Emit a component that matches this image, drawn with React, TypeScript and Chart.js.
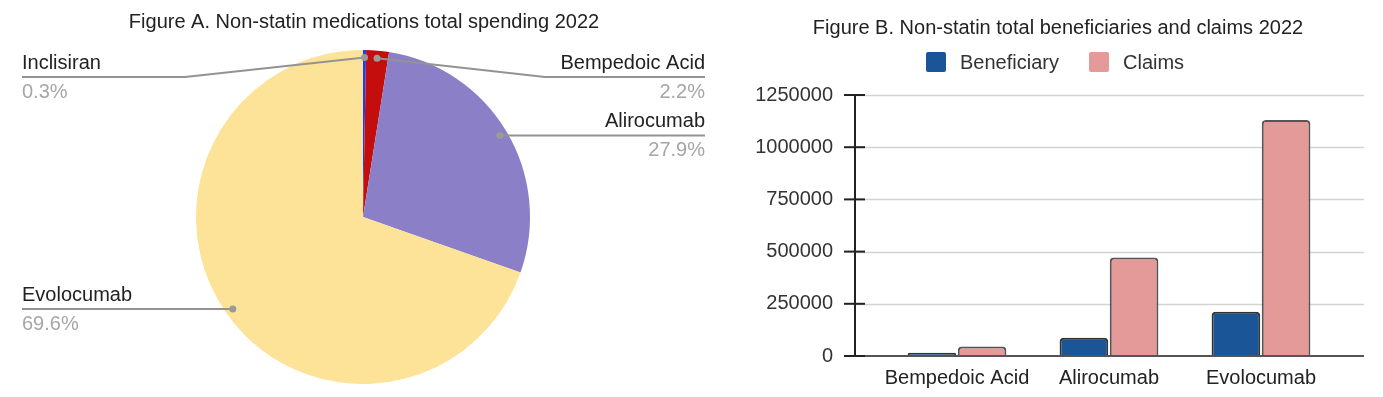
import React, { useEffect, useRef } from 'react';
import { Chart, registerables } from 'chart.js';

Chart.register(...registerables);

// ---------- Data ----------
const pieTitle = 'Figure A. Non-statin medications total spending 2022';
const pieLabels = ['Inclisiran', 'Bempedoic Acid', 'Alirocumab', 'Evolocumab'];
const pieValues = [0.3, 2.2, 27.9, 69.6];

const barTitle = 'Figure B. Non-statin total beneficiaries and claims 2022';
const barCategories = ['Bempedoic Acid', 'Alirocumab', 'Evolocumab'];
const beneficiaryValues = [15000, 88000, 212000];
const claimsValues = [45000, 472000, 1130000];
const yTickValues = [0, 250000, 500000, 750000, 1000000, 1250000];

// ---------- Styles / layout ----------
const FONT = '"Liberation Sans", Arial, sans-serif';
const pieColors = ['#1a3ef0', '#c40e0e', '#8b80c7', '#fce397'];
const pieLabelSides = ['left', 'right', 'right', 'left'];
const beneficiaryColor = '#1a5597';
const claimsColor = '#e39a99';
const BAR_OFFSET = 730;

const pieLabelPlugin = {
  id: 'pieLabelPlugin',
  afterDraw(chart: any) {
    const ctx = chart.ctx;
    const area = chart.chartArea;
    const meta = chart.getDatasetMeta(0);
    const data = chart.data.datasets[0].data as number[];
    const total = data.reduce((a, b) => a + b, 0);
    ctx.save();
    ctx.font = `20px ${FONT}`;
    ctx.fillStyle = '#222';
    ctx.textAlign = 'center';
    ctx.textBaseline = 'middle';
    ctx.fillText(pieTitle, 364, 22);

    meta.data.forEach((arc: any, i: number) => {
      const p = arc.getProps(['x', 'y', 'startAngle', 'endAngle', 'outerRadius'], true);
      const mid = (p.startAngle + p.endAngle) / 2;
      const r = p.outerRadius * 0.955;
      const dx = p.x + Math.cos(mid) * r;
      const dy = p.y + Math.sin(mid) * r;
      const lineY = Math.max(dy, area.top + 27);
      const side = pieLabelSides[i];
      const endX = side === 'left' ? 22 : 705;
      const bendX = side === 'left' ? endX + 163 : endX - 160;
      ctx.strokeStyle = '#939393';
      ctx.lineWidth = 2;
      ctx.beginPath();
      ctx.moveTo(dx, dy);
      if (lineY > dy + 0.5) ctx.lineTo(bendX, lineY);
      ctx.lineTo(endX, lineY);
      ctx.stroke();
      ctx.fillStyle = '#9a9a9a';
      ctx.beginPath();
      ctx.arc(dx, dy, 3.5, 0, Math.PI * 2);
      ctx.fill();

      ctx.textAlign = side === 'left' ? 'left' : 'right';
      ctx.textBaseline = 'middle';
      ctx.font = `20px ${FONT}`;
      ctx.fillStyle = '#222';
      ctx.fillText(pieLabels[i], endX, lineY - 14);
      ctx.fillStyle = '#a6a6a6';
      ctx.fillText(((data[i] / total) * 100).toFixed(1) + '%', endX, lineY + 15);
    });
    ctx.restore();
  },
};

const AXIS_X = 855 - BAR_OFFSET;
const RIGHT_X = 1364 - BAR_OFFSET;

const barDecorPlugin = {
  id: 'barDecorPlugin',
  beforeDatasetsDraw(chart: any) {
    const ctx = chart.ctx;
    const y = chart.scales.y;
    ctx.save();
    ctx.strokeStyle = '#d3d3d3';
    ctx.lineWidth = 1.5;
    yTickValues.forEach((v) => {
      if (v === 0) return;
      const py = Math.round(y.getPixelForValue(v)) + 0.5;
      ctx.beginPath();
      ctx.moveTo(AXIS_X, py);
      ctx.lineTo(RIGHT_X, py);
      ctx.stroke();
    });
    ctx.restore();
  },
  afterDraw(chart: any) {
    const ctx = chart.ctx;
    const y = chart.scales.y;
    const x = chart.scales.x;
    const y0 = y.getPixelForValue(0);
    const yTop = y.getPixelForValue(yTickValues[yTickValues.length - 1]);
    ctx.save();
    // zero baseline
    ctx.strokeStyle = '#555';
    ctx.lineWidth = 2;
    ctx.beginPath();
    ctx.moveTo(AXIS_X, y0);
    ctx.lineTo(RIGHT_X, y0);
    ctx.stroke();
    // axis line
    ctx.strokeStyle = '#222';
    ctx.beginPath();
    ctx.moveTo(AXIS_X, yTop - 1);
    ctx.lineTo(AXIS_X, y0 + 1);
    ctx.stroke();
    // tick marks
    yTickValues.forEach((v) => {
      const py = y.getPixelForValue(v);
      ctx.beginPath();
      ctx.moveTo(AXIS_X - 11, py);
      ctx.lineTo(AXIS_X + 10, py);
      ctx.stroke();
    });
    ctx.font = `20px ${FONT}`;
    // y tick labels
    ctx.fillStyle = '#333';
    ctx.textAlign = 'right';
    ctx.textBaseline = 'middle';
    yTickValues.forEach((v) => {
      ctx.fillText(String(v), 833 - BAR_OFFSET, y.getPixelForValue(v));
    });
    // x category labels
    ctx.fillStyle = '#222';
    ctx.textAlign = 'center';
    barCategories.forEach((c, i) => {
      ctx.fillText(c, x.getPixelForValue(i), y0 + 22);
    });
    // title
    ctx.fillText(barTitle, 1058 - BAR_OFFSET, 28);
    // legend
    const items = chart.data.datasets.map((d: any) => ({ label: d.label, color: d.backgroundColor }));
    const legendX = [926 - BAR_OFFSET, 1089 - BAR_OFFSET];
    items.forEach((it: any, i: number) => {
      const bx = legendX[i];
      ctx.fillStyle = it.color;
      ctx.beginPath();
      (ctx as any).roundRect(bx, 52, 20, 20, 2);
      ctx.fill();
      ctx.fillStyle = '#333';
      ctx.textAlign = 'left';
      ctx.fillText(it.label, bx + 34, 63);
    });
    ctx.restore();
  },
};

export default function App() {
  const pieRef = useRef<HTMLCanvasElement | null>(null);
  const barRef = useRef<HTMLCanvasElement | null>(null);

  useEffect(() => {
    const pie = new Chart(pieRef.current as HTMLCanvasElement, {
      type: 'pie',
      data: {
        labels: pieLabels,
        datasets: [
          {
            data: pieValues,
            backgroundColor: pieColors,
            borderWidth: 0,
          },
        ],
      },
      options: {
        responsive: false,
        animation: false,
        events: [],
        layout: { padding: { left: 196, right: 200, top: 50, bottom: 13 } },
        plugins: { legend: { display: false }, title: { display: false }, tooltip: { enabled: false } },
      },
      plugins: [pieLabelPlugin],
    });

    const bar = new Chart(barRef.current as HTMLCanvasElement, {
      type: 'bar',
      data: {
        labels: barCategories,
        datasets: [
          {
            label: 'Beneficiary',
            data: beneficiaryValues,
            backgroundColor: beneficiaryColor,
            borderColor: '#333',
            borderWidth: 2,
            borderRadius: 4,
            categoryPercentage: 0.66,
            barPercentage: 0.97,
          },
          {
            label: 'Claims',
            data: claimsValues,
            backgroundColor: claimsColor,
            borderColor: '#555',
            borderWidth: 2,
            borderRadius: 4,
            categoryPercentage: 0.66,
            barPercentage: 0.97,
          },
        ],
      },
      options: {
        responsive: false,
        maintainAspectRatio: false,
        animation: false,
        events: [],
        layout: { padding: { left: 151, right: 46, top: 95, bottom: 41 } },
        plugins: { legend: { display: false }, title: { display: false }, tooltip: { enabled: false } },
        scales: {
          x: {
            display: false,
            grid: { display: false },
            ticks: { display: false, minRotation: 0, maxRotation: 0 },
          },
          y: {
            display: false,
            min: 0,
            max: 1250000,
            grid: { display: false },
            ticks: { display: false },
          },
        },
      },
      plugins: [barDecorPlugin],
    });

    return () => {
      pie.destroy();
      bar.destroy();
    };
  }, []);

  return (
    <div style={{ position: 'fixed', left: 0, top: 0, width: 1383, height: 397, background: '#fff' }}>
      <canvas ref={pieRef} width={730} height={397} style={{ position: 'absolute', left: 0, top: 0, width: 730, height: 397 }} />
      <canvas
        ref={barRef}
        width={653}
        height={397}
        style={{ position: 'absolute', left: BAR_OFFSET, top: 0, width: 653, height: 397 }}
      />
    </div>
  );
}
